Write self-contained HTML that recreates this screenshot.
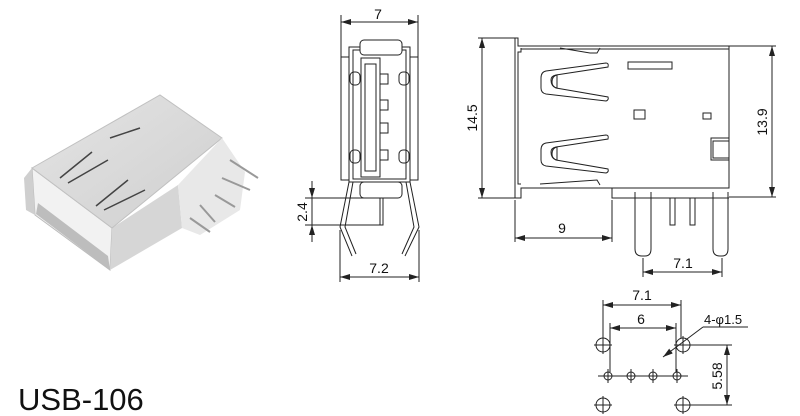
<!DOCTYPE html>
<html><head><style>
body{margin:0;background:#fff;}
svg{display:block;font-family:"Liberation Sans",Arial,sans-serif;}
</style></head><body>
<svg width="800" height="416" viewBox="0 0 800 416" xmlns="http://www.w3.org/2000/svg">
<defs>
<marker id="a" viewBox="0 0 10 6" refX="10" refY="3" markerWidth="10" markerHeight="6" orient="auto-start-reverse" markerUnits="userSpaceOnUse"><path d="M0,0 L10,3 L0,6 z" fill="#222"/></marker>
<linearGradient id="g1" x1="0" y1="0" x2="1" y2="1"><stop offset="0" stop-color="#e4e4e4"/><stop offset="1" stop-color="#cfcfcf"/></linearGradient>
</defs>
<!-- photo -->
<g>
<polygon points="35,215 110,270 112,228 32,168" fill="#f2f2f2" stroke="#bbb"/>
<polygon points="24,178 32,168 35,215 26,210" fill="#cfcfcf"/>
<polygon points="38,203 108,256 110,270 36,214" fill="#bdbdbd"/>
<polygon points="110,270 112,228 178,185 182,228" fill="#d6d6d6"/>
<polygon points="32,168 160,95 222,138 112,228" fill="url(#g1)" stroke="#c0c0c0"/>
<polygon points="178,185 222,138 245,172 240,210 200,235 182,228" fill="#e8e8e8"/>
<g stroke="#444" stroke-width="1.5" fill="none">
<path d="M60,178 L92,152 M68,183 L108,160"/>
<path d="M96,206 L128,180 M104,210 L145,190"/>
<path d="M110,138 L140,128"/>
</g>
<g stroke="#999" stroke-width="2" fill="none">
<path d="M230,160 L258,178 M222,178 L250,190 M215,195 L235,207 M200,205 L215,222 M190,218 L210,232"/>
</g>
</g>
<!-- middle view -->
<g stroke="#222" stroke-width="1" fill="none">
<line x1="341" y1="15" x2="341" y2="58"/><line x1="418" y1="15" x2="418" y2="58"/>
<line x1="341" y1="22" x2="418" y2="22" marker-start="url(#a)" marker-end="url(#a)"/>
<rect x="341" y="57" width="77" height="123" fill="#fff"/>
<rect x="349" y="47" width="61" height="135" fill="#fff"/>
<rect x="353" y="50" width="53" height="129"/>
<rect x="360" y="40" width="42" height="15" rx="4" fill="#fff"/>
<rect x="360" y="182" width="42" height="16" rx="4" fill="#fff"/>
<rect x="361" y="58" width="19" height="119"/>
<rect x="365" y="64" width="11" height="107"/>
<rect x="380" y="74" width="8" height="10"/><rect x="380" y="100" width="8" height="10"/>
<rect x="380" y="123" width="8" height="10"/><rect x="380" y="150" width="8" height="10"/>
<rect x="350" y="72" width="10" height="13" rx="4"/><rect x="350" y="150" width="10" height="13" rx="4"/>
<rect x="399" y="72" width="10" height="13" rx="4"/><rect x="399" y="150" width="10" height="13" rx="4"/>
<path d="M349,182 L340,227 L352,256 M353,182 L345,227 L356,254"/>
<path d="M410,182 L419,227 L405,256 M406,182 L414,227 L402,254"/>
<path d="M380,198 L380,225 L383,225 L383,198"/>
<line x1="305" y1="198" x2="381" y2="198"/><line x1="305" y1="225" x2="381" y2="225"/>
<line x1="312" y1="181" x2="312" y2="198" marker-end="url(#a)"/>
<line x1="312" y1="242" x2="312" y2="225" marker-end="url(#a)"/>
<line x1="312" y1="198" x2="312" y2="225"/>
<line x1="340" y1="230" x2="340" y2="282"/><line x1="419" y1="230" x2="419" y2="282"/>
<line x1="340" y1="277" x2="419" y2="277" marker-start="url(#a)" marker-end="url(#a)"/>
</g>
<text x="378" y="19" font-size="14" text-anchor="middle" fill="#111">7</text>
<text x="379" y="273" font-size="14" text-anchor="middle" fill="#111">7.2</text>
<text transform="translate(307,212) rotate(-90)" font-size="14" text-anchor="middle" fill="#111">2.4</text>
<!-- right view -->
<g stroke="#222" stroke-width="1" fill="none">
<line x1="478" y1="38" x2="516" y2="38"/><line x1="478" y1="198" x2="516" y2="198"/>
<line x1="482" y1="38" x2="482" y2="198" marker-start="url(#a)" marker-end="url(#a)"/>
<line x1="729" y1="46" x2="776" y2="46"/><line x1="729" y1="197" x2="776" y2="197"/>
<line x1="772" y1="46" x2="772" y2="197" marker-start="url(#a)" marker-end="url(#a)"/>
<path d="M515,38 L515,198 M515,38 L518,38 L518,46 L729,46 L729,188 L521,188 L521,198 L515,198"/>
<path d="M521,48 L521,52 L518,52 L518,184 L521,184"/>
<path d="M521,49 L729,49"/>
<path d="M560,48 L590,53 L597,53 L600,48"/>
<path d="M540,184 L597,180 L600,185"/>
<path d="M612,188 L612,198 L729,198"/>
<rect x="628" y="62" width="44" height="7"/>
<rect x="634" y="110" width="11" height="9"/><rect x="703" y="113" width="8" height="6"/>
<rect x="711" y="138" width="18" height="22"/><rect x="713" y="141" width="16" height="17"/>
<path d="M606,63 L546,71 Q541,72 541,78 L541,88 Q541,93 546,94 L606,101 Q609,100 608,97 L556,88 Q551,86 551,80 Q551,76 556,75 L608,67 Q609,63 606,63z"/>
<path d="M552,82 Q552,76 557,75 L557,88 Q552,87 552,82"/>
<path d="M606,135 L546,143 Q541,144 541,150 L541,160 Q541,165 546,166 L606,173 Q609,172 608,169 L556,160 Q551,158 551,152 Q551,148 556,147 L608,139 Q609,135 606,135z"/>
<path d="M552,154 Q552,148 557,147 L557,160 Q552,159 552,154"/>
<path d="M635,192 L635,249 Q635,256 642,256 L645,256 Q651,256 651,249 L651,192"/>
<path d="M713,192 L713,249 Q713,256 720,256 L722,256 Q728,256 728,249 L728,192"/>
<path d="M670,198 L670,225 L675,225 L675,198 M690,198 L690,225 L695,225 L695,198"/>
<line x1="515" y1="200" x2="515" y2="242"/><line x1="612" y1="200" x2="612" y2="242"/>
<line x1="515" y1="238" x2="612" y2="238" marker-start="url(#a)" marker-end="url(#a)"/>
<line x1="643" y1="258" x2="643" y2="277"/><line x1="722" y1="258" x2="722" y2="277"/>
<line x1="643" y1="272" x2="722" y2="272" marker-start="url(#a)" marker-end="url(#a)"/>
</g>
<text transform="translate(477,118) rotate(-90)" font-size="14" text-anchor="middle" fill="#111">14.5</text>
<text transform="translate(767,122) rotate(-90)" font-size="14" text-anchor="middle" fill="#111">13.9</text>
<text x="562" y="233" font-size="14" text-anchor="middle" fill="#111">9</text>
<text x="683" y="268" font-size="14" text-anchor="middle" fill="#111">7.1</text>
<!-- footprint -->
<g stroke="#222" stroke-width="1" fill="none">
<line x1="603" y1="300" x2="603" y2="338"/><line x1="681" y1="300" x2="681" y2="338"/>
<line x1="603" y1="305" x2="681" y2="305" marker-start="url(#a)" marker-end="url(#a)"/>
<line x1="610" y1="323" x2="610" y2="372"/><line x1="676" y1="323" x2="676" y2="372"/>
<line x1="610" y1="328" x2="676" y2="328" marker-start="url(#a)" marker-end="url(#a)"/>
<circle cx="603" cy="345" r="7"/><circle cx="683" cy="345" r="7"/>
<circle cx="603" cy="405" r="7"/><circle cx="683" cy="405" r="7"/>
<path d="M594,345 L612,345 M603,336 L603,354 M674,345 L692,345 M683,336 L683,354 M594,405 L612,405 M603,396 L603,414 M674,405 L692,405 M683,396 L683,414"/>
<circle cx="608" cy="376" r="4"/><circle cx="631" cy="376" r="4"/><circle cx="653" cy="376" r="4"/><circle cx="677" cy="376" r="4"/>
<path d="M598,376 L688,376 M608,369 L608,383 M631,369 L631,383 M653,369 L653,383 M677,369 L677,383"/>
<line x1="690" y1="345" x2="732" y2="345"/><line x1="690" y1="405" x2="732" y2="405"/>
<line x1="727" y1="345" x2="727" y2="405" marker-start="url(#a)" marker-end="url(#a)"/>
<line x1="663" y1="357" x2="703" y2="327" marker-start="url(#a)"/>
<line x1="703" y1="327" x2="748" y2="327"/>
</g>
<text x="642" y="300" font-size="14" text-anchor="middle" fill="#111">7.1</text>
<text x="641" y="324" font-size="14" text-anchor="middle" fill="#111">6</text>
<text x="704" y="324" font-size="13" fill="#111">4-φ1.5</text>
<text transform="translate(722,376) rotate(-90)" font-size="14" text-anchor="middle" fill="#111">5.58</text>
<text x="18" y="410" font-size="31" fill="#111">USB-106</text>
</svg>
</body></html>
